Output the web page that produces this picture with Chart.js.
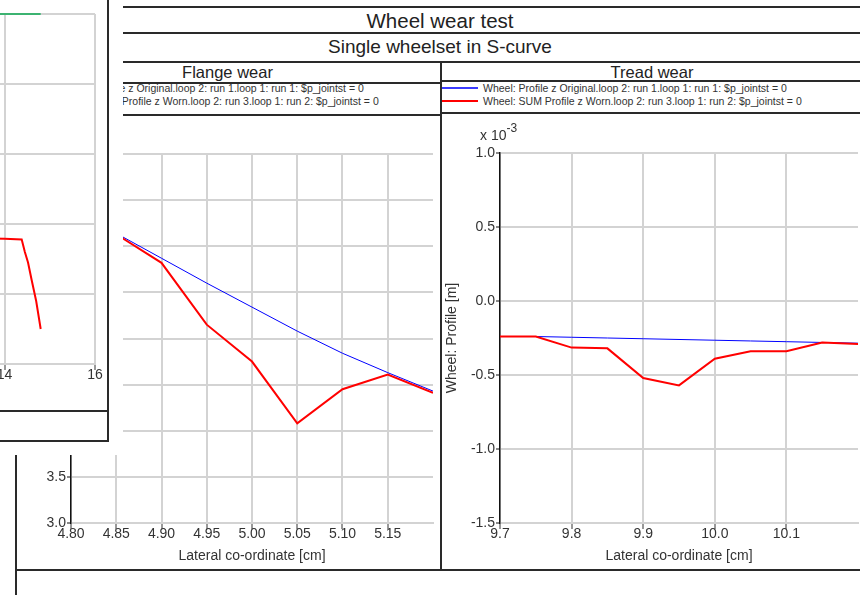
<!DOCTYPE html>
<html>
<head>
<meta charset="utf-8">
<script src="https://cdn.jsdelivr.net/npm/chart.js@4/dist/chart.umd.min.js"></script>
<style>
  html, body { margin: 0; padding: 0; }
  body { width: 860px; height: 595px; overflow: hidden; background: #fff; position: relative;
         font-family: "Liberation Sans", Arial, sans-serif; color: #222; }
  .ab { position: absolute; }
  .hl { position: absolute; height: 2px; background: #2a2a2a; }
  .vl { position: absolute; width: 2px; background: #2a2a2a; }
  .ttl { position: absolute; display: flex; align-items: center; justify-content: center; white-space: nowrap; }
  .leg { position: absolute; font-size: 10.5px; color: #333; white-space: nowrap; line-height: 13px; }
  .swatch { position: absolute; height: 2px; }
</style>
</head>
<body>
<script>
// ---------------- data ----------------
const mainTitle = "Wheel wear test";
const subTitle = "Single wheelset in S-curve";
const panelTitles = ["Flange wear", "Tread wear"];
const seriesNames = [
  "Wheel: Profile z Original.loop 2: run 1.loop 1: run 1: $p_jointst = 0",
  "Wheel: SUM Profile z Worn.loop 2: run 3.loop 1: run 2: $p_jointst = 0"
];
const xAxisTitle = "Lateral co-ordinate [cm]";
const yAxisTitle = "Wheel: Profile [m]";

const flangeLateral  = [4.80, 4.85, 4.90, 4.95, 5.00, 5.05, 5.10, 5.15, 5.20];
const flangeOriginal = [6.39, 6.14, 5.87, 5.60, 5.34, 5.08, 4.84, 4.63, 4.43];
const flangeWorn     = [6.39, 6.13, 5.82, 5.15, 4.75, 4.08, 4.45, 4.61, 4.41];

const treadLateral  = [9.70, 9.75, 9.80, 9.85, 9.90, 9.95, 10.00, 10.05, 10.10, 10.15, 10.20];
const treadOriginal = [-0.24, -0.24, -0.245, -0.25, -0.255, -0.26, -0.265, -0.27, -0.275, -0.28, -0.285];
const treadWorn     = [-0.24, -0.24, -0.315, -0.32, -0.52, -0.57, -0.39, -0.34, -0.34, -0.28, -0.29];

const sideLateralWorn  = [12.0, 13.0, 14.0, 14.38, 14.45, 14.52, 14.60, 14.70, 14.80];
const sideWorn         = [1.81, 1.80, 1.79, 1.78, 1.60, 1.45, 1.20, 0.90, 0.50];
const sideLateralGreen = [12.0, 14.80];
const sideGreen        = [5.0, 5.0];

const flangeXTicks = [4.80, 4.85, 4.90, 4.95, 5.00, 5.05, 5.10, 5.15];
const flangeYTicks = [3.0, 3.5, 4.0, 4.5, 5.0, 5.5, 6.0, 6.5, 7.0];
const treadXTicks  = [9.7, 9.8, 9.9, 10.0, 10.1];
const treadYTicks  = [-1.5, -1.0, -0.5, 0.0, 0.5, 1.0];
const sideXTicks   = [8, 10, 12, 14, 16];
const sideYTicks   = [0, 1, 2, 3, 4, 5];
</script>

<!-- main window frame -->
<div class="hl" style="left:15px; top:6px; width:850px;"></div>
<div class="ttl" id="t1" style="left:15px; top:8px; width:850px; height:25px; font-size:20.5px;"></div>
<div class="hl" style="left:15px; top:32px; width:850px;"></div>
<div class="ttl" id="t2" style="left:15px; top:34px; width:850px; height:26px; font-size:19px;"></div>
<div class="hl" style="left:15px; top:61px; width:850px;"></div>
<div class="vl" style="left:440px; top:61px; height:510px;"></div>
<div class="ttl" id="p1" style="left:15px; top:63px; width:425px; height:19px; font-size:16.5px;"></div>
<div class="ttl" id="p2" style="left:441px; top:63px; width:422px; height:18px; font-size:16.5px;"></div>
<div class="hl" style="left:15px; top:82px; width:425px;"></div>
<div class="hl" style="left:441px; top:80px; width:424px;"></div>
<div class="hl" style="left:15px; top:114px; width:425px;"></div>
<div class="hl" style="left:441px; top:112px; width:424px;"></div>
<div class="hl" style="left:15px; top:569px; width:850px;"></div>
<div class="vl" style="left:15px; top:0px; height:595px;"></div>

<!-- tread legend -->
<div class="swatch" style="left:442px; top:87px; width:36px; height:1.5px; background:#3b3bff;"></div>
<div class="swatch" style="left:442px; top:100px; width:36px; background:#ff0000;"></div>
<div class="leg" id="lt1" style="left:483px; top:82px;"></div>
<div class="leg" id="lt2" style="left:483px; top:95px;"></div>

<!-- flange legend (left part hidden behind the other window) -->
<div class="ab" style="left:123px; top:84px; width:316px; height:29px; overflow:hidden;">
  <div class="swatch" style="left:-106px; top:3px; width:36px; height:1.5px; background:#3b3bff;"></div>
  <div class="swatch" style="left:-106px; top:16px; width:36px; background:#ff0000;"></div>
  <div class="leg" id="lf1" style="left:-63px; top:-2px;"></div>
  <div class="leg" id="lf2" style="left:-63px; top:11px;"></div>
</div>

<canvas id="flange" class="ab" width="425" height="455" style="left:15px; top:115px;"></canvas>
<canvas id="tread" class="ab" width="423" height="455" style="left:440px; top:115px;"></canvas>

<div class="ab" style="left:480px; top:123px; font-size:14px; color:#333; white-space:nowrap;">x 10<sup style="font-size:12px; position:relative; top:-2px;">-3</sup></div>

<!-- window in front -->
<div class="ab" style="left:0; top:0; width:123px; height:455px; background:#fff;"></div>
<div class="ab" style="left:0; top:0; width:108px; height:411px; overflow:hidden;">
  <canvas id="side" class="ab" width="428" height="411" style="left:-320px; top:0;"></canvas>
</div>
<div class="vl" style="left:107px; top:0; height:442px;"></div>
<div class="hl" style="left:0; top:410px; width:108px;"></div>
<div class="hl" style="left:0; top:440px; width:108px;"></div>

<script>
document.getElementById('t1').textContent = mainTitle;
document.getElementById('t2').textContent = subTitle;
document.getElementById('p1').textContent = panelTitles[0];
document.getElementById('p2').textContent = panelTitles[1];
document.getElementById('lt1').textContent = seriesNames[0];
document.getElementById('lt2').textContent = seriesNames[1];
document.getElementById('lf1').textContent = seriesNames[0];
document.getElementById('lf2').textContent = seriesNames[1];

const FONT = '"Liberation Sans", Arial, sans-serif';
const GRID = '#d3d3d3';
const pts = (xs, ys) => xs.map((x, i) => ({x: x, y: ys[i]}));

function makeChart(id, datasets, cfg) {
  return new Chart(document.getElementById(id), {
    type: 'scatter',
    data: { datasets: datasets },
    options: {
      responsive: false, animation: false, devicePixelRatio: 1,
      layout: { padding: cfg.padding },
      plugins: { legend: { display: false }, tooltip: { enabled: false } },
      elements: { point: { radius: 0 }, line: { tension: 0 } },
      scales: {
        x: {
          type: 'linear', min: cfg.xMin, max: cfg.xMax,
          afterFit: s => { s.height = cfg.xHeight; },
          afterBuildTicks: s => { s.ticks = cfg.xTicks.map(v => ({ value: v })); },
          grid: { color: GRID, lineWidth: 2, tickLength: 6, tickColor: '#333', tickWidth: 1 },
          border: { color: GRID, width: 2 },
          ticks: { padding: -3, color: '#333', autoSkip: false, maxRotation: 0,
                   font: { family: FONT, size: 14 }, callback: v => v.toFixed(cfg.xDec) },
          title: { display: !!cfg.xTitle, text: cfg.xTitle || '', color: '#333',
                   font: { family: FONT, size: 14 }, padding: { top: 0, bottom: 5 } }
        },
        y: {
          type: 'linear', min: cfg.yMin, max: cfg.yMax,
          afterFit: s => { s.width = cfg.yWidth; },
          afterBuildTicks: s => { s.ticks = cfg.yTicks.map(v => ({ value: v })); },
          grid: { color: GRID, lineWidth: 2, tickLength: 4, tickColor: '#111', tickWidth: 1 },
          border: { color: '#111', width: 1.5 },
          ticks: { display: cfg.yLabels !== false, padding: 1, color: '#333',
                   font: { family: FONT, size: 14 }, callback: v => v.toFixed(1) },
          title: { display: !!cfg.yTitle, text: cfg.yTitle || '', color: '#333',
                   font: { family: FONT, size: 14 }, padding: { top: 4, bottom: 0 } }
        }
      }
    }
  });
}

const redLine = (data) => ({ data: data, showLine: true, borderColor: '#ff0000', borderWidth: 2, pointRadius: 0, fill: false });
const blueLine = (data) => ({ data: data, showLine: true, borderColor: '#0000ff', borderWidth: 1, pointRadius: 0, fill: false });

makeChart('flange', [redLine(pts(flangeLateral, flangeWorn)), blueLine(pts(flangeLateral, flangeOriginal))], {
  padding: { top: 39, right: 7, left: 0, bottom: 0 },
  xMin: 4.80, xMax: 5.20, xTicks: flangeXTicks, xDec: 2, xHeight: 47, xTitle: xAxisTitle,
  yMin: 3.0, yMax: 7.0, yTicks: flangeYTicks, yWidth: 56
});

makeChart('tread', [redLine(pts(treadLateral, treadWorn)), blueLine(pts(treadLateral, treadOriginal))], {
  padding: { top: 38, right: 5, left: 0, bottom: 0 },
  xMin: 9.7, xMax: 10.2, xTicks: treadXTicks, xDec: 1, xHeight: 47, xTitle: xAxisTitle,
  yMin: -1.5, yMax: 1.0, yTicks: treadYTicks, yWidth: 60, yTitle: yAxisTitle
});

makeChart('side', [
  redLine(pts(sideLateralWorn, sideWorn)),
  { data: pts(sideLateralGreen, sideGreen), showLine: true, borderColor: '#3cb371', borderWidth: 2, pointRadius: 0, fill: false, clip: 4 }
], {
  padding: { top: 14, right: 13, left: 0, bottom: 0 },
  xMin: 8, xMax: 16, xTicks: sideXTicks, xDec: 0, xHeight: 47,
  yMin: 0, yMax: 5, yTicks: sideYTicks, yWidth: 53, yLabels: false
});
</script>
</body>
</html>
